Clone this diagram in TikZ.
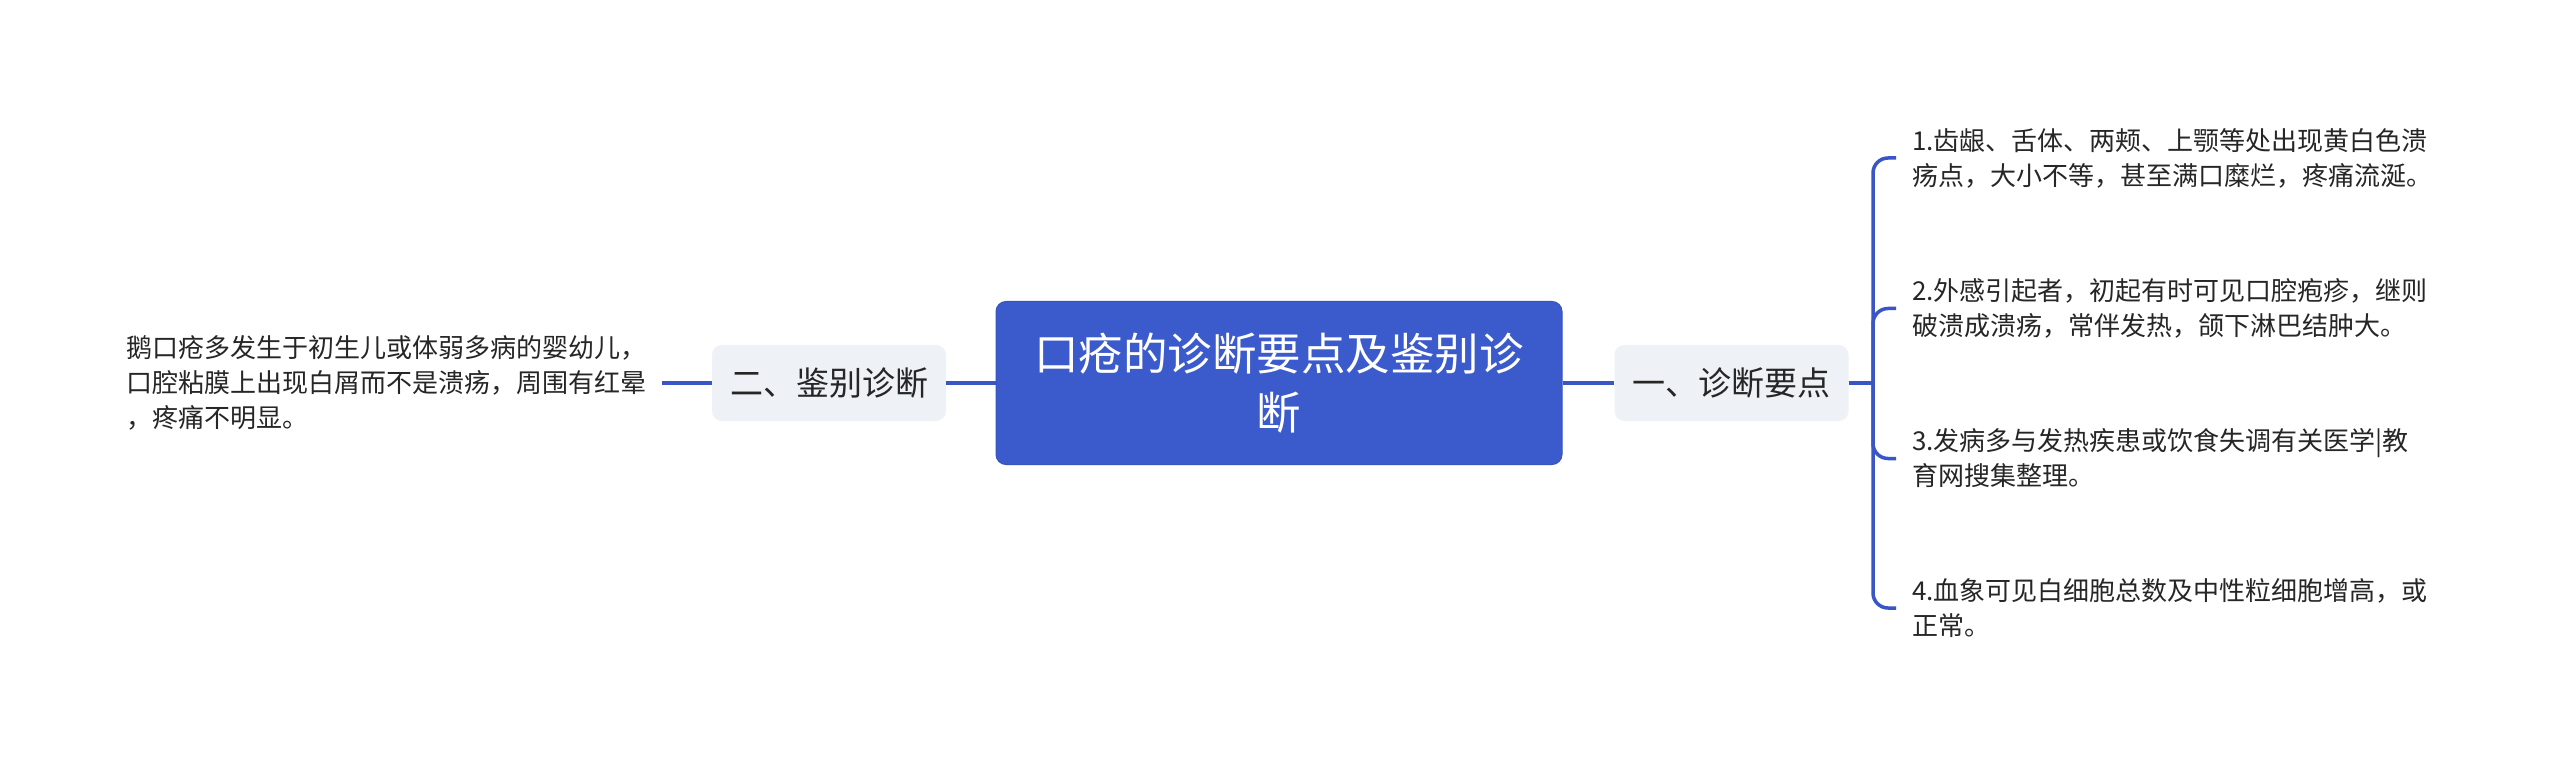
\documentclass[tikz,border=0pt]{standalone}
\usepackage{fontspec}
\setmainfont{Noto Sans CJK SC}
\definecolor{mainblue}{HTML}{3B5BCC}
\definecolor{linkblue}{HTML}{3A56C6}
\definecolor{subgray}{HTML}{EEF1F5}
\definecolor{txt}{HTML}{262626}
\begin{document}
\begin{tikzpicture}[x=1pt,y=-1pt,
  root/.style={fill=mainblue, draw=mainblue!92!black, line width=1pt, rounded corners=10pt, text=white,
    font=\fontsize{44.5}{59}\selectfont, align=center, minimum width=566pt, minimum height=163pt, inner sep=0pt},
  topic/.style={fill=subgray, rounded corners=10pt, text=txt, font=\fontsize{33}{40}\selectfont,
    minimum width=234pt, minimum height=76pt, inner sep=0pt},
  leaf/.style={text=txt, font=\fontsize{26}{35}\selectfont, align=left, inner xsep=16pt, inner ysep=0pt},
  link/.style={draw=linkblue, line width=3.5pt},
  branch/.style={link, rounded corners=15pt}]
\useasboundingbox (0,0) rectangle (2560,767);
\fill[white] (0,0) rectangle (2560,767);

\node[root] (root) at (1279,383) {口疮的诊断要点及鉴别诊\\断};
\node[topic] (left) at (829,383) {二、鉴别诊断};
\node[topic] (right) at (1731.5,383) {一、诊断要点};

\node[leaf, anchor=west] (leafL) at (110,383) {鹅口疮多发生于初生儿或体弱多病的婴幼儿，\\口腔粘膜上出现白屑而不是溃疡，周围有红晕\\，疼痛不明显。};

\node[leaf, anchor=west] (r1) at (1896,158) {1.齿龈、舌体、两颊、上颚等处出现黄白色溃\\疡点，大小不等，甚至满口糜烂，疼痛流涎。};
\node[leaf, anchor=west] (r2) at (1896,308.5) {2.外感引起者，初起有时可见口腔疱疹，继则\\破溃成溃疡，常伴发热，颌下淋巴结肿大。};
\node[leaf, anchor=west] (r3) at (1896,458.5) {3.发病多与发热疾患或饮食失调有关医学|教\\育网搜集整理。};
\node[leaf, anchor=west] (r4) at (1896,608) {4.血象可见白细胞总数及中性粒细胞增高，或\\正常。};

\draw[link] (root.west) -- (left.east);
\draw[link] (left.west) -- (leafL.east);
\draw[link] (root.east) -- (right.west);

\coordinate (j) at (1873,383);
\draw[link] (right.east) -- (j);
\draw[branch] (j) |- (r1.west);
\draw[branch] (j) |- (r2.west);
\draw[branch] (j) |- (r3.west);
\draw[branch] (j) |- (r4.west);
\end{tikzpicture}
\end{document}
